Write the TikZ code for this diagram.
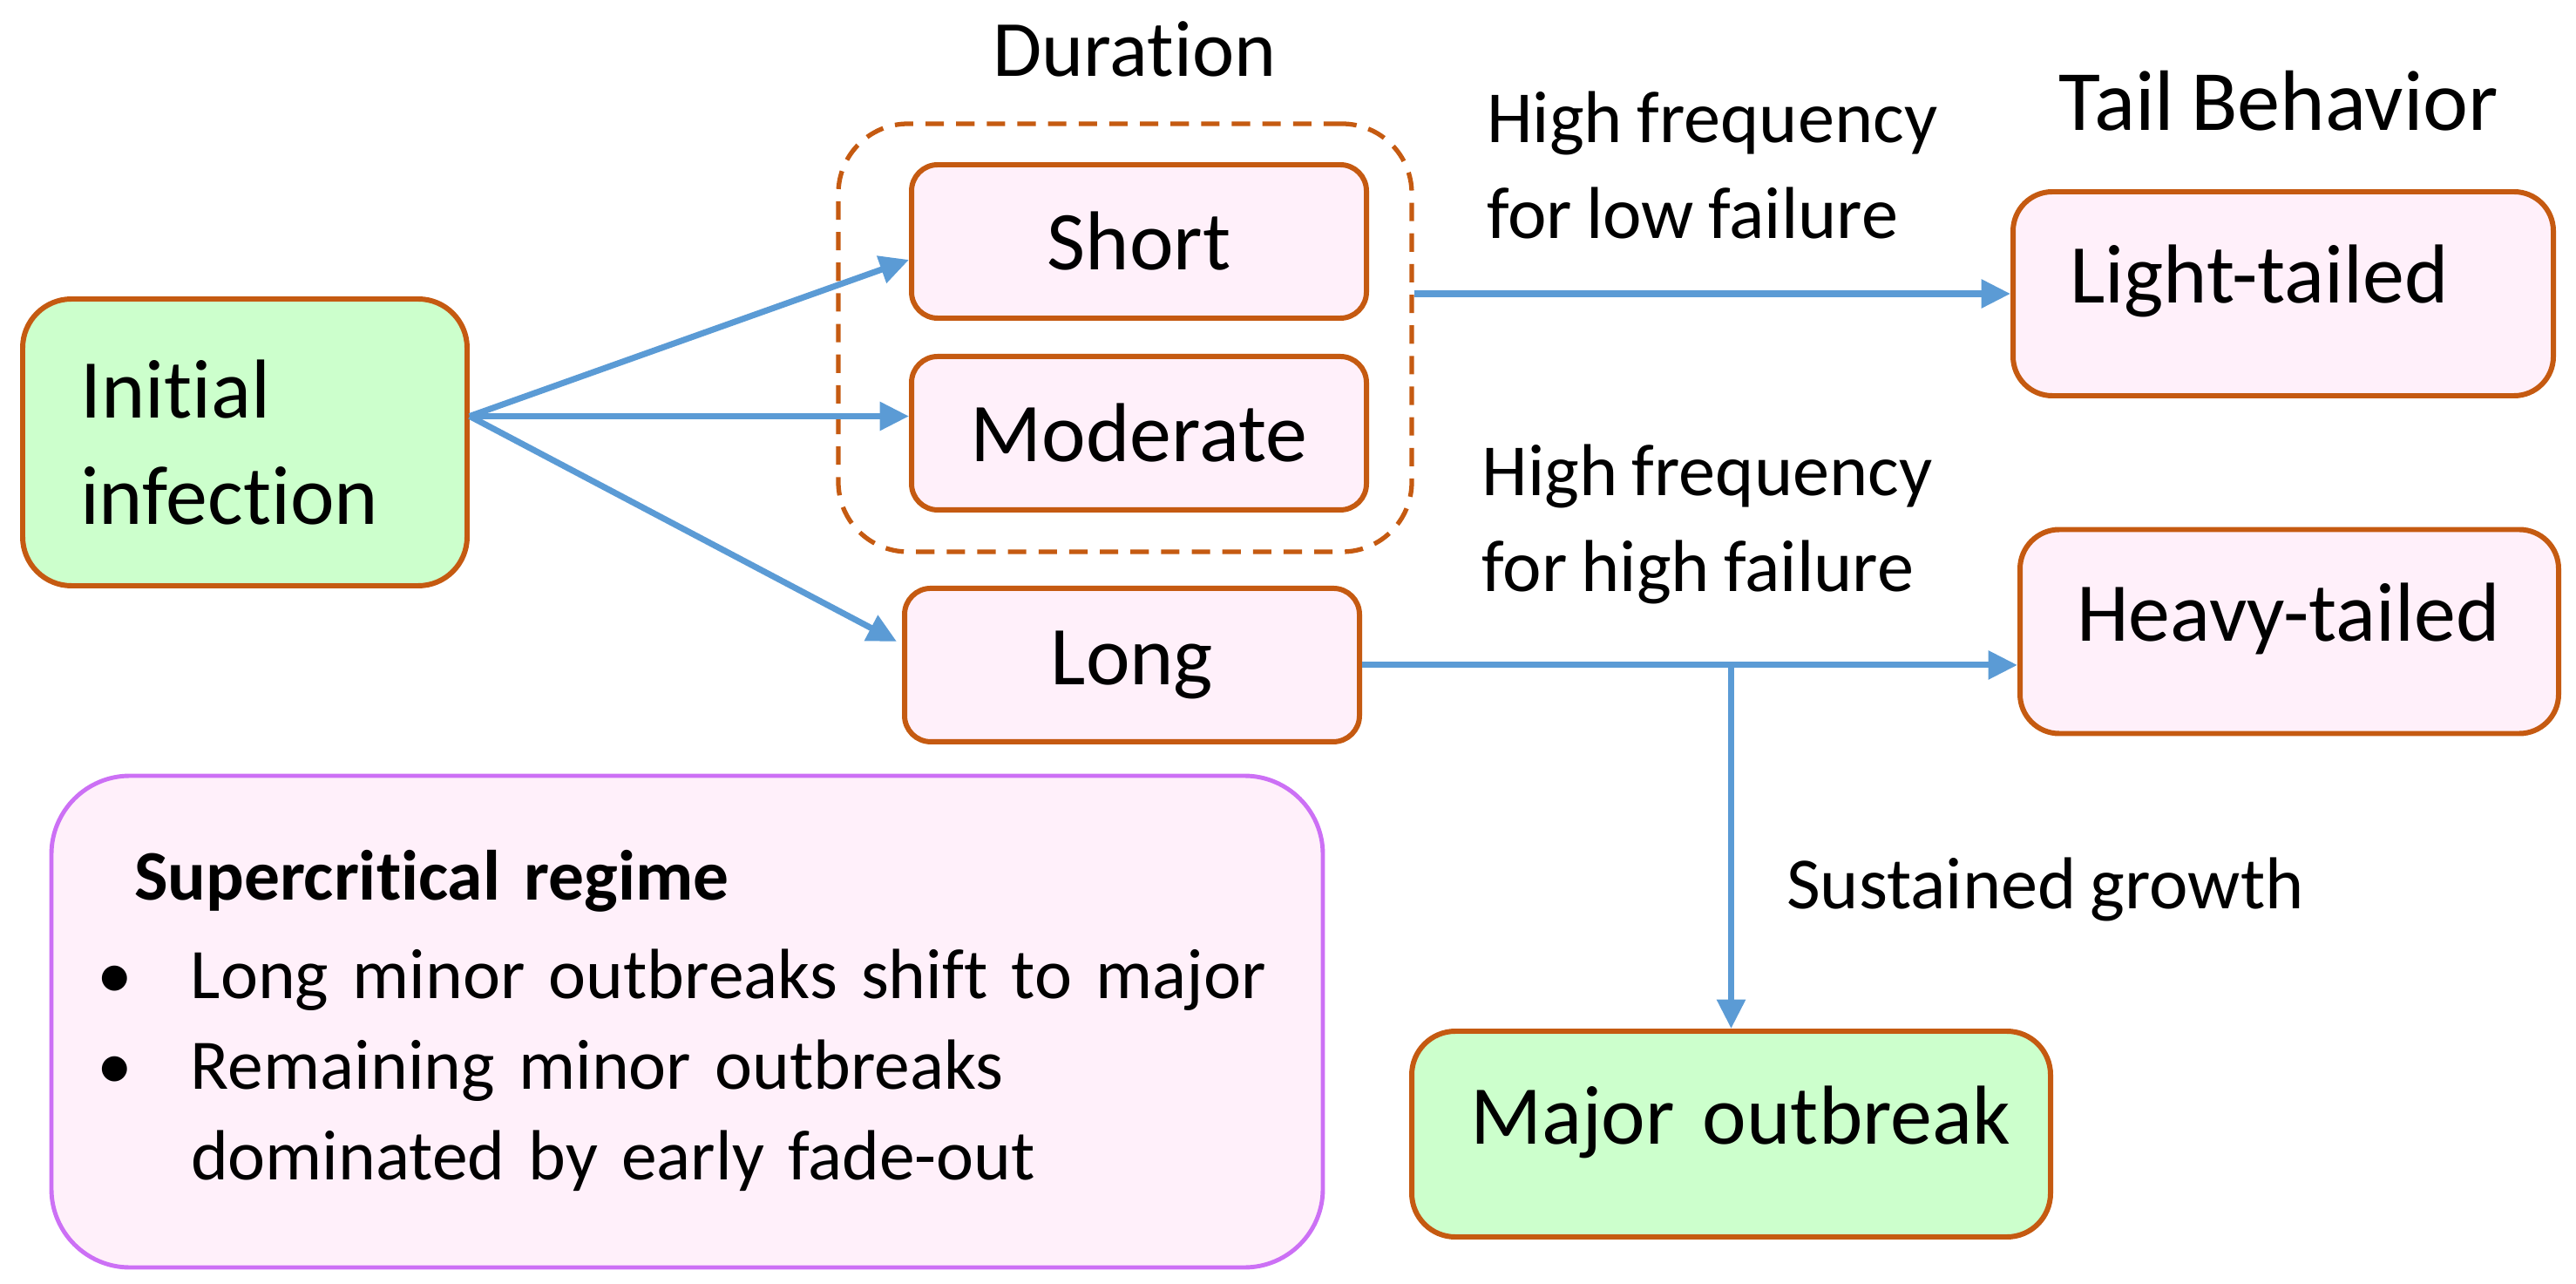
\documentclass[tikz,border=0pt]{standalone}
\usepackage{fontspec}
\setmainfont{Carlito}[Ligatures=NoCommon, WordSpace=0.85]
\usepackage{xcolor}
\usepackage{tikz}
\usetikzlibrary{arrows.meta, positioning, calc}
\definecolor{rust}{RGB}{197,90,17}
\definecolor{flowblue}{RGB}{91,155,213}
\definecolor{mint}{RGB}{204,255,204}
\definecolor{blush}{RGB}{255,240,250}
\definecolor{lilac}{RGB}{204,112,245}

\begin{document}
\begin{tikzpicture}[font=\fontsize{27.3}{34.7}\selectfont, node distance=0.38cm,
        durbox/.style={draw=rust, line width=1.7pt, rounded corners=0.3cm, fill=blush,
                       minimum width=5.22cm, minimum height=1.76cm, inner sep=0pt},
        tailbox/.style={draw=rust, line width=1.7pt, rounded corners=0.45cm, fill=blush,
                        minimum height=2.34cm, align=left, inner xsep=0.65cm,
                        text width=4.9cm, text height=0.5cm, text depth=0.28cm},
        hdr/.style={inner sep=0pt, anchor=base},
        lbl/.style={inner sep=0pt, align=left, text depth=0pt,
                    font=\fontsize{24}{31.2}\selectfont},
        arr/.style={draw=flowblue, line width=2pt, -{Triangle[length=9.5pt,width=9pt]}}]
      \useasboundingbox (0,0) rectangle (29.56,-14.73);

      \node[draw=rust, line width=1.7pt, rounded corners=0.56cm, fill=mint,
            minimum height=3.29cm, align=left, text width=3.78cm, inner xsep=0.66cm]
            (init) at (2.81,-5.075) {Initial\\infection};

      \node[draw=rust, dashed, dash pattern=on 6pt off 4pt, line width=1.5pt,
            rounded corners=0.8cm, minimum width=6.58cm, minimum height=4.91cm]
            (dur) at (12.91,-3.875) {};
      \node[durbox] (short) at (13.07,-2.77) {Short};
      \node[durbox, below=of short] (moderate) {Moderate};
      \node[durbox, below=0.84cm of moderate, xshift=-0.08cm] (long) {Long};
      \node[hdr, font=\fontsize{26}{30}\selectfont] (durlbl) at (13.02,-0.88) {Duration};

      \node[tailbox] (light) at (26.2,-3.37) {\mbox{Light-tailed}};
      \node[tailbox, text width=4.88cm] (heavy) at (26.27,-7.245) {\mbox{Heavy-tailed}};
      \node[hdr, font=\fontsize{28}{32}\selectfont] (taillbl) at (26.15,-1.50) {Tail Behavior};

      \node[draw=rust, line width=1.7pt, rounded corners=0.5cm, fill=mint,
            minimum height=2.36cm, align=left, inner xsep=0.67cm, text width=5.99cm,
            text height=0.5cm, text depth=0.28cm]
            (major) at (19.865,-13.01) {\mbox{Major outbreak}};

      \node[draw=lilac, line width=1.4pt, rounded corners=0.9cm, fill=blush,
            minimum height=5.64cm, align=left, inner xsep=0.52cm, text width=13.55cm,
            font=\fontsize{23.2}{29.6}\selectfont]
            (note) at (7.885,-11.72)
        {\begin{tabular}{@{}p{1.08cm}@{}l@{}}
           \multicolumn{2}{@{\hspace{0.43cm}}l@{}}{\textbf{Supercritical regime}}\\[2.6pt]
           \textbullet & Long minor outbreaks shift to major\\
           \textbullet & Remaining minor outbreaks\\
                       & dominated by early fade-out
         \end{tabular}};

      \coordinate (fork) at ($(init.east)+(0,0.30)$);
      \draw[arr] (fork) -- ($(short.west)+(0,-0.21)$);
      \draw[arr] (fork) -- (fork -| moderate.west);
      \draw[arr] (fork) -- ($(long.west)+(-0.06,0.27)$);

      \draw[arr] (dur.east |- light.west) -- node[lbl, above=0.60cm]
        {High frequency\\for low failure} (light.west);
      \draw[arr] (long.east) -- node[lbl, above=0.81cm, xshift=0.2cm]
        {High frequency\\for high failure} (long.east -| heavy.west);

      \coordinate (split) at (major.north |- long.east);
      \draw[arr] (split) -- node[lbl, right=0.6cm, pos=0.6]
        {Sustained growth} (major.north);
    \end{tikzpicture}
\end{document}
